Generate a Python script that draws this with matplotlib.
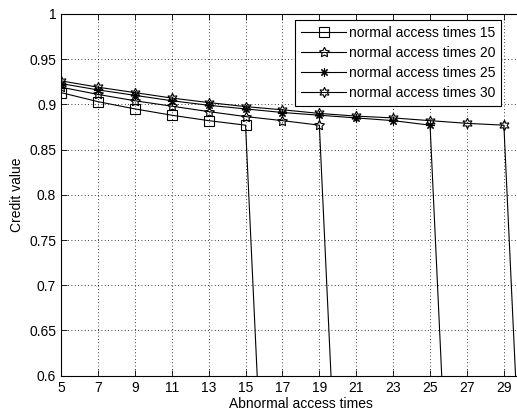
import numpy as np
import matplotlib
matplotlib.use("Agg")
import matplotlib.pyplot as plt

plt.rcParams['font.family'] = ['Liberation Sans', 'DejaVu Sans']

# abnormal access times (odd steps), credit drops to 0 after the last point
x15 = [5, 7, 9, 11, 13, 15, 17]
y15 = [0.913, 0.903, 0.895, 0.888, 0.882, 0.877, 0.0]

x20 = [5, 7, 9, 11, 13, 15, 17, 19, 21]
y20 = [0.919, 0.911, 0.904, 0.898, 0.892, 0.8865, 0.882, 0.877, 0.0]

x25 = [5, 7, 9, 11, 13, 15, 17, 19, 21, 23, 25, 27]
y25 = [0.923, 0.916, 0.910, 0.904, 0.899, 0.895, 0.891, 0.888, 0.885, 0.882, 0.877, 0.0]

x30 = [5, 7, 9, 11, 13, 15, 17, 19, 21, 23, 25, 27, 29, 31]
y30 = [0.926, 0.919, 0.913, 0.907, 0.902, 0.8975, 0.894, 0.890, 0.887, 0.885, 0.882, 0.879, 0.877, 0.0]

labels = ['normal access times 15', 'normal access times 20',
          'normal access times 25', 'normal access times 30']
xticks = list(range(5, 30, 2))
yticks = [0.6, 0.65, 0.7, 0.75, 0.8, 0.85, 0.9, 0.95, 1.0]
ytick_labels = ['0.6', '0.65', '0.7', '0.75', '0.8', '0.85', '0.9', '0.95', '1']

fig = plt.figure(figsize=(5.17, 4.16), dpi=100)
# axes run past the right edge, like the cropped original
ax = fig.add_axes([0.118, 0.097, 0.928, 0.8695])

style = dict(color='black', lw=0.8, markerfacecolor='none', markeredgecolor='black', markeredgewidth=0.8)
ax.plot(x15, y15, marker='s', markersize=6.5, label=labels[0], **style)
ax.plot(x20, y20, marker=(5, 1, 0), markersize=7.5, label=labels[1], **style)
ax.plot(x25, y25, marker=(8, 2, 0), markersize=6, label=labels[2], **style)
ax.plot(x30, y30, marker=(6, 1, 0), markersize=7.5, label=labels[3], **style)

ax.set_xlim(5, 31)
ax.set_ylim(0.6, 1.0)
ax.set_xticks(xticks)
ax.set_yticks(yticks)
ax.set_yticklabels(ytick_labels)
ax.tick_params(direction='in', top=True, right=True, labelsize=10, length=4, width=0.6)
ax.grid(True, color='black', linestyle=(0, (1, 3)), linewidth=0.6)
for s in ax.spines.values():
    s.set_linewidth(0.8)

ax.set_xlabel('Abnormal access times', fontsize=10, labelpad=2)
ax.set_ylabel('Credit value', fontsize=10, labelpad=4)

leg = ax.legend(loc='upper left', bbox_to_anchor=(0.488, 0.983), fontsize=10,
                frameon=True, fancybox=False, framealpha=1, edgecolor='black',
                handlelength=3.2, handletextpad=0.2, borderpad=0.45, labelspacing=0.42,
                borderaxespad=0)
leg.get_frame().set_linewidth(0.8)

fig.savefig('out.png', dpi=100)
